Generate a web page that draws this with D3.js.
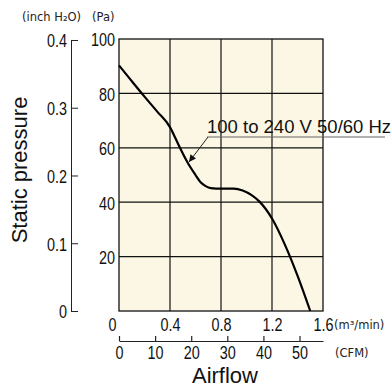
<!DOCTYPE html>
<html>
<head>
<meta charset="utf-8">
<script src="https://cdn.jsdelivr.net/npm/d3@7"></script>
<style>
  body { margin: 0; background: #fff; }
  svg { display: block; }
  .num { font-family: "Liberation Sans", Arial, sans-serif; font-size: 18px; fill: #111; }
  .unit { font-family: "DejaVu Sans", sans-serif; font-size: 11.5px; fill: #222; }
  .title { font-family: "Liberation Sans", Arial, sans-serif; font-size: 22px; fill: #111; }
</style>
</head>
<body>
<div id="stage"></div>
<script>
// P-Q curve
const flow = [0, 0.1, 0.2, 0.3, 0.4, 0.44, 0.48, 0.54, 0.6, 0.64, 0.68, 0.72, 0.8, 0.9, 0.97, 1.04, 1.1, 1.2, 1.3, 1.4, 1.5];
const pressure = [90.3, 84.5, 78.8, 73.3, 67.6, 63.8, 59.8, 54.4, 50, 47.3, 45.9, 45.2, 45, 45, 44.3, 42.6, 40.3, 34, 24.5, 13, 0];

const flowTicks = [0, 0.4, 0.8, 1.2, 1.6];
const paTicks = [20, 40, 60, 80, 100];
const inchTicks = [0, 0.1, 0.2, 0.3, 0.4];
const cfmTicks = [0, 10, 20, 30, 40, 50];
const seriesLabel = '100 to 240 V 50/60 Hz';

const PA_PER_INCH = 249.09;
const M3_PER_CFM = 0.0283168;
const NARROW = 0.8; // condensed look for the tick numbers

const width = 392, height = 387;
const svg = d3.select('#stage').append('svg')
  .attr('width', width)
  .attr('height', height);

const x = d3.scaleLinear().domain([0, 1.6]).range([119, 323]);
const y = d3.scaleLinear().domain([0, 100]).range([311, 39]);
const yIn = d3.scaleLinear().domain([0, 0.4]).range([y(0), y(0.4 * PA_PER_INCH)]);
const xCfm = d3.scaleLinear().domain([0, 1.6 / M3_PER_CFM]).range([x(0), x(1.6)]);

function narrowText(sel) {
  sel.attr('class', 'num')
    .attr('font-family', null).attr('font-size', null).attr('fill', null)
    .attr('transform', `scale(${NARROW},1)`)
    .attr('x', function () { return (+d3.select(this).attr('x') || 0) / NARROW; });
}

// plot background
svg.append('rect')
  .attr('x', x(0)).attr('y', y(100))
  .attr('width', x(1.6) - x(0)).attr('height', y(0) - y(100))
  .attr('fill', '#fbf7e4');

// grid
const grid = svg.append('g').attr('stroke', '#111').attr('stroke-width', 1.2);
grid.selectAll('line.v')
  .data(flowTicks.slice(1, -1))
  .enter().append('line')
  .attr('x1', (d) => x(d)).attr('x2', (d) => x(d))
  .attr('y1', y(0)).attr('y2', y(100));
grid.selectAll('line.h')
  .data(paTicks.slice(0, -1))
  .enter().append('line')
  .attr('x1', x(0)).attr('x2', x(1.6))
  .attr('y1', (d) => y(d)).attr('y2', (d) => y(d));

svg.append('rect')
  .attr('x', x(0)).attr('y', y(100))
  .attr('width', x(1.6) - x(0)).attr('height', y(0) - y(100))
  .attr('fill', 'none').attr('stroke', '#111').attr('stroke-width', 1.3);

// Pa axis
const paAxis = svg.append('g')
  .attr('transform', `translate(${x(0)},0)`)
  .call(d3.axisLeft(y).tickValues(paTicks).tickSize(0).tickPadding(4));
paAxis.select('.domain').remove();
paAxis.selectAll('text').call(narrowText).attr('dy', '0.38em');

// inch H2O axis
const inAxis = svg.append('g')
  .attr('transform', 'translate(71,0)')
  .call(d3.axisLeft(yIn).tickValues(inchTicks).tickSizeInner(-7).tickSizeOuter(0).tickPadding(4)
    .tickFormat((d) => d === 0 ? '0' : d3.format('.1f')(d)));
inAxis.selectAll('path, line').attr('stroke', '#222').attr('stroke-width', 1);
inAxis.selectAll('text').call(narrowText).attr('dy', '0.38em');

// flow axis labels (m3/min)
const flowAxis = svg.append('g')
  .attr('transform', `translate(0,${y(0)})`)
  .call(d3.axisBottom(x).tickValues(flowTicks).tickSize(0).tickPadding(7)
    .tickFormat((d) => d === 0 ? '0' : d3.format('.1f')(d)));
flowAxis.select('.domain').remove();
flowAxis.selectAll('text').call(narrowText)
  .attr('dx', (d) => d === 0 ? -7 / NARROW : 0);

// CFM axis
const cfmAxis = svg.append('g')
  .attr('transform', 'translate(0,341)')
  .call(d3.axisBottom(xCfm).tickValues(cfmTicks).tickSizeInner(-5).tickSizeOuter(0).tickPadding(5));
cfmAxis.selectAll('path, line').attr('stroke', '#222').attr('stroke-width', 1.2);
cfmAxis.selectAll('text').call(narrowText);

// units
svg.append('text').attr('class', 'unit').attr('x', 22).attr('y', 21).text('(inch H₂O)');
svg.append('text').attr('class', 'unit').attr('x', 92).attr('y', 21).text('(Pa)');
svg.append('text').attr('class', 'unit').attr('x', 334).attr('y', 329).text('(m³/min)');
svg.append('text').attr('class', 'unit').attr('x', 335).attr('y', 357).text('(CFM)');

// titles
svg.append('text').attr('class', 'title')
  .attr('transform', 'translate(27,170) rotate(-90)')
  .attr('text-anchor', 'middle')
  .text('Static pressure');
svg.append('text').attr('class', 'title')
  .attr('x', 225).attr('y', 382.5)
  .attr('font-size', 21)
  .attr('text-anchor', 'middle')
  .text('Airflow');

// curve
const line = d3.line()
  .x((d, i) => x(flow[i]))
  .y((d) => y(d))
  .curve(d3.curveMonotoneX);
svg.append('path')
  .datum(pressure)
  .attr('d', line)
  .attr('fill', 'none')
  .attr('stroke', '#000')
  .attr('stroke-width', 2.2);

// annotation
svg.append('defs').append('marker')
  .attr('id', 'arrow')
  .attr('viewBox', '0 0 10 10')
  .attr('refX', 10).attr('refY', 5)
  .attr('markerWidth', 9).attr('markerHeight', 7)
  .attr('markerUnits', 'userSpaceOnUse')
  .attr('orient', 'auto')
  .append('path').attr('d', 'M0,0 L10,5 L0,10 Z').attr('fill', '#111');

svg.append('line')
  .attr('x1', 207).attr('y1', 137).attr('x2', 385).attr('y2', 137)
  .attr('stroke', '#666').attr('stroke-width', 1.2);
svg.append('line')
  .attr('x1', 208).attr('y1', 137).attr('x2', 189).attr('y2', 162)
  .attr('stroke', '#222').attr('stroke-width', 1)
  .attr('marker-end', 'url(#arrow)');
svg.append('text')
  .attr('x', 207).attr('y', 133)
  .attr('font-family', '"Liberation Sans", Arial, sans-serif')
  .attr('font-size', 18.5)
  .attr('fill', '#111')
  .text(seriesLabel);
</script>
</body>
</html>
